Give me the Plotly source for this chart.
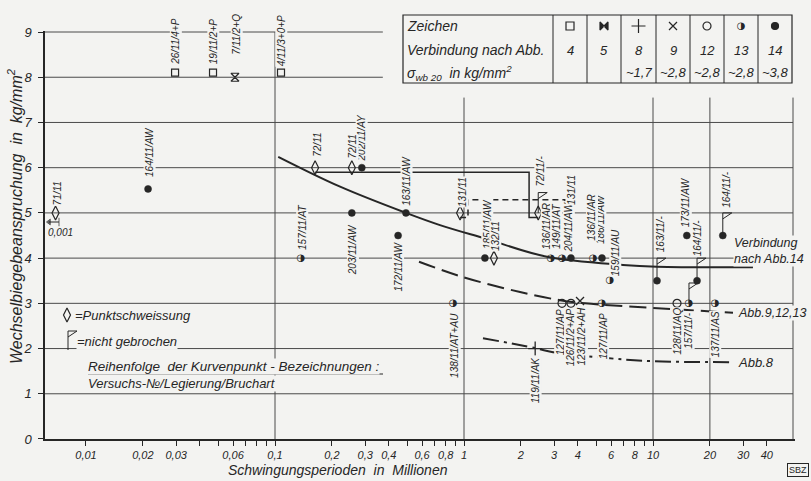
import numpy as np
import plotly.graph_objects as go

W, H = 811, 481
BG = "#f3f3f1"
INK = "#262626"
GRID = "#4a4a4a"
FONT = "Liberation Sans, Arial, sans-serif"
NARROW = "Liberation Sans Narrow, Liberation Sans, Arial, sans-serif"

# ---------------- data ----------------
# Abb.14 joints (filled circle)
abb14_x = [0.0213, 0.288, 0.255, 0.493, 0.448, 1.29, 3.68, 5.37, 10.5, 15.1, 17.1, 23.4]
abb14_y = [5.53, 6.0, 5.0, 5.0, 4.5, 4.0, 4.0, 4.0, 3.5, 4.5, 3.5, 4.5]
abb14_lbl = ["164/11/AW", "202/11/AY", "203/11/AW", "163/11/AW", "172/11/AW", "185/11/AW",
             "204/11/AW", "186/11/AW", "163/11/-", "173/11/AW", "164/11/-", "164/11/-"]
# Abb.13 joints (half-filled circle)
abb13_x = [0.137, 0.875, 2.88, 3.30, 4.82, 5.92, 5.37, 15.5, 21.3]
abb13_y = [4.0, 3.0, 4.0, 4.0, 4.0, 3.5, 3.0, 3.0, 3.0]
abb13_lbl = ["157/11/AT", "138/11/AT+AU", "136/11/AR", "149/11/AT", "136/11/AR", "159/11/AU",
             "127/11/AP", "157/11/-", "137/11/AS"]
# Abb.12 joints (open circle)
abb12_x = [3.30, 3.68, 13.4]
abb12_y = [3.0, 3.0, 3.0]
abb12_lbl = ["127/11/AP", "126/11/2+AP", "128/11/AQ"]
# Abb.9 (x)
abb9_x = [4.11]
abb9_y = [3.05]
abb9_lbl = ["123/11/2+AH"]
# Abb.8 (+)
abb8_x = [2.38]
abb8_y = [2.0]
abb8_lbl = ["119/11/AK"]
# Abb.4 (square)
abb4_x = [0.0296, 0.047, 0.1076]
abb4_y = [8.1, 8.1, 8.1]
abb4_lbl = ["26/11/4+P", "19/11/2+P", "4/11/3+0+P"]
# Abb.5 (hourglass)
abb5_x = [0.0614]
abb5_y = [8.0]
abb5_lbl = ["7/11/2+Q"]
# spot welding (diamond)
spot_x = [0.0069, 0.163, 0.255, 0.953, 1.44, 2.47, 3.55]
spot_y = [5.0, 6.0, 6.0, 5.0, 4.0, 5.0, 5.0]
spot_lbl = ["71/11", "72/11", "72/11", "131/11", "132/11", "72/11/-", "131/11"]
# not broken (flags): point and top of the flag pole
flag_x = [2.47, 15.5, 10.5, 17.1, 23.4]
flag_y = [5.0, 3.0, 3.5, 3.5, 4.5]
flag_top = [5.45, 3.45, 4.0, 4.0, 5.0]

# fitted curves
c14_x = [0.104, 0.221, 0.493, 0.746, 1.3, 2.75, 6.93, 10.5, 33.8]
c14_y = [6.24, 5.58, 5.0, 4.73, 4.43, 4.03, 3.85, 3.81, 3.8]
c9_x = [0.578, 0.99, 1.98, 3.22, 4.37, 10.0, 26.5]
c9_y = [3.92, 3.58, 3.25, 3.07, 3.0, 2.9, 2.79]
c8_x = [1.26, 2.38, 2.96, 5.71, 10.0, 25.5]
c8_y = [2.23, 2.01, 1.92, 1.79, 1.72, 1.70]
# spot-welding step lines
step1_x = [0.163, 2.21, 2.21, 2.47]
step1_y = [5.9, 5.9, 4.9, 4.9]
step2_x = [0.953, 1.05, 1.05, 3.42, 3.42, 3.55]
step2_y = [4.9, 4.9, 5.29, 5.29, 4.9, 4.9]

# axis ticks
xtick_vals = [0.01, 0.02, 0.03, 0.06, 0.1, 0.2, 0.3, 0.4, 0.6, 0.8,
              1, 2, 3, 4, 6, 8, 10, 20, 30, 40]
xtick_text = ["0,01", "0,02", "0,03", "0,06", "0,1", "0,2", "0,3", "0,4", "0,6", "0,8",
              "1", "2", "3", "4", "6", "8", "10", "20", "30", "40"]
xminor_vals = [0.04, 0.05, 0.07, 0.08, 0.09, 0.5, 0.7, 0.9, 5, 7, 9]
ytick_vals = [0, 1, 2, 3, 4, 5, 6, 7, 8, 9]

# table
tab_abb = ["4", "5", "8", "9", "12", "13", "14"]
tab_sigma = ["", "", "~1,7", "~2,8", "~2,8", "~2,8", "~3,8"]

# ---------------- label placement (pixels: x shift, gap >0 above / <0 below) ----------------
abb14_dx = [2, 0, 1, 1, 0, 2, -2, -2, 3, -1, 0, 3]
abb14_gap = [11, 5, -10, 6, -5, 8, 5, 13, 27, 7, 23, 27]
abb13_dx = [1, 2, -4, -6, -1, 5, 1, 0, 0]
abb13_gap = [7, -9, 8, 8, 16, 4, -9, -7, -7]
abb12_dx = [-2, -1, 1]
abb12_gap = [-5, -4, -4]
abb9_dx, abb9_gap = [2], [-5]
abb8_dx, abb8_gap = [0], [-7]
abb4_dx, abb4_gap = [1, 0, 0], [7, 7, 5]
abb5_dx, abb5_gap = [2], [22]
spot_dx = [2, 3, 1, 3, 1, 2, 4]
spot_gap = [6, 10, 8, 5, 6, 25, 7]

# ---------------- geometry ----------------
PX_DEC = 189.0     # pixels per decade
PX_UNIT = 45.22    # pixels per kg/mm2
X_RANGE = [-2.2169, 1.7513]
Y_RANGE = [0, 9.02]
x_dom = [45 / W, 795 / W]
y_dom = [(H - 439) / H, (H - 439 + Y_RANGE[1] * PX_UNIT) / H]
x_min = 10 ** X_RANGE[0]
x_frame = 10 ** 1.7407

fig = go.Figure()

# grid lines
gx, gy = [], []
for yv in [1, 2, 3, 4, 5, 6, 7]:
    gx += [x_min, x_frame, None]; gy += [yv, yv, None]
for yv in [8, 9]:
    gx += [x_min, 0.372, None]; gy += [yv, yv, None]
gx += [0.1, 0.1, None]; gy += [0, 9, None]
for xv in [1, 10, 20, x_frame]:
    gx += [xv, xv, None]; gy += [0, 7.55, None]
fig.add_trace(go.Scatter(x=gx, y=gy, mode="lines", line=dict(color=GRID, width=1),
                         hoverinfo="skip"))

# curves
fig.add_trace(go.Scatter(x=c14_x, y=c14_y, mode="lines", line=dict(color=INK, width=2, shape="spline"),
                         hoverinfo="skip"))
fig.add_trace(go.Scatter(x=c9_x, y=c9_y, mode="lines",
                         line=dict(color=INK, width=2, shape="spline", dash="17px,7px"), hoverinfo="skip"))
fig.add_trace(go.Scatter(x=c8_x, y=c8_y, mode="lines",
                         line=dict(color=INK, width=2, shape="spline", dash="16px,5px,3px,5px"),
                         hoverinfo="skip"))
fig.add_trace(go.Scatter(x=step1_x, y=step1_y, mode="lines", line=dict(color=INK, width=1.5),
                         hoverinfo="skip"))
fig.add_trace(go.Scatter(x=step2_x, y=step2_y, mode="lines", line=dict(color=INK, width=1.5, dash="6px,4px"),
                         hoverinfo="skip"))

# flags (not broken)
fw = 10 ** (9 / PX_DEC)
fd = 6 / PX_UNIT
fx, fy = [], []
for x, y, t in zip(flag_x, flag_y, flag_top):
    fx += [x, x, x * fw, x, None]
    fy += [y, t, t, t - fd, None]
fig.add_trace(go.Scatter(x=fx, y=fy, mode="lines", line=dict(color=INK, width=1), hoverinfo="skip"))

# markers
def mk(xs, ys, symbol, size, lw=1.2):
    fig.add_trace(go.Scatter(x=xs, y=ys, mode="markers", hoverinfo="skip",
                             marker=dict(symbol=symbol, size=size, color=INK,
                                         line=dict(color=INK, width=lw))))

mk(abb14_x, abb14_y, "circle", 7, 0.5)
mk(abb12_x, abb12_y, "circle-open", 8)
mk(abb9_x, abb9_y, "x-thin-open", 8, 1.3)
mk(abb8_x, abb8_y, "cross-thin-open", 10, 1.3)
mk(abb4_x, abb4_y, "square-open", 7)
mk(abb5_x, abb5_y, "hourglass-open", 8)
mk(spot_x, spot_y, "diamond-tall-open", 10)
fig.add_trace(go.Scatter(x=abb13_x, y=abb13_y, mode="text", text=["◑"] * len(abb13_x),
                         textposition="middle center", hoverinfo="skip",
                         textfont=dict(family="DejaVu Sans", size=10, color=INK)))

# point labels
def add_labels(xs, ys, labels, dxs, gaps):
    for x, y, t, dx, g in zip(xs, ys, labels, dxs, gaps):
        fig.add_annotation(x=np.log10(x), y=y, xref="x", yref="y", text=t, textangle=-90,
                           showarrow=False, xanchor="center", yanchor="bottom" if g > 0 else "top",
                           xshift=dx, yshift=g, bgcolor=BG, borderpad=0,
                           font=dict(family=NARROW, size=10, color=INK, style="italic"))

add_labels(abb14_x, abb14_y, abb14_lbl, abb14_dx, abb14_gap)
add_labels(abb13_x, abb13_y, abb13_lbl, abb13_dx, abb13_gap)
add_labels(abb12_x, abb12_y, abb12_lbl, abb12_dx, abb12_gap)
add_labels(abb9_x, abb9_y, abb9_lbl, abb9_dx, abb9_gap)
add_labels(abb8_x, abb8_y, abb8_lbl, abb8_dx, abb8_gap)
add_labels(abb4_x, abb4_y, abb4_lbl, abb4_dx, abb4_gap)
add_labels(abb5_x, abb5_y, abb5_lbl, abb5_dx, abb5_gap)
add_labels(spot_x, spot_y, spot_lbl, spot_dx, spot_gap)

# ---------------- decorations in pixel space ----------------
def px(x): return x / W
def py(y): return 1 - y / H

def note(x, y, text, size=13, xanchor="left", angle=0, bg=None, **kw):
    fig.add_annotation(x=px(x), y=py(y), xref="paper", yref="paper", text=text, showarrow=False,
                       xanchor=xanchor, yanchor="middle", textangle=angle,
                       bgcolor=bg if bg else "rgba(0,0,0,0)", borderpad=0,
                       font=dict(family=FONT, size=size, color=INK, style="italic"), **kw)

# curve names
note(733, 251, "Verbindung<br>nach Abb.14", 12.5, bg=BG, align="left")
note(737, 313, "Abb.9,12,13", 12.5, bg=BG)
note(737, 362, "Abb.8", 13, bg=BG)

# axis titles
note(338, 470, "Schwingungsperioden  in  Millionen", 14, xanchor="center")
note(15, 216, "Wechselbiegebeanspruchung  in  kg/mm<sup>2</sup>", 16, xanchor="center", angle=-90)

# off-scale marker note
note(60, 232, "0,001", 10, xanchor="center")

# legend texts
note(74, 315, "=Punktschweissung", 13, bg=BG)
note(76, 341, "=nicht gebrochen", 13, bg=BG)
note(87, 366, "Reihenfolge  der Kurvenpunkt - Bezeichnungen :", 13.5, bg=BG)
note(87, 383, "Versuchs-№/Legierung/Bruchart", 13, bg=BG)

# SBZ
fig.add_annotation(x=px(798), y=py(470), xref="paper", yref="paper", text="SBZ", showarrow=False,
                   xanchor="center", yanchor="middle", bordercolor=INK, borderwidth=1, borderpad=1,
                   font=dict(family=FONT, size=9, color=INK))

shapes = []
# underline
shapes.append(dict(type="line", xref="paper", yref="paper", x0=px(88), x1=px(383), y0=py(374), y1=py(374),
                   line=dict(color=INK, width=1)))
# table
tx0, tx1, ty0, ty1 = 403, 792, 15, 83
shapes.append(dict(type="rect", xref="paper", yref="paper", x0=px(tx0), x1=px(tx1), y0=py(ty0), y1=py(ty1),
                   line=dict(color=INK, width=1.2), fillcolor=BG, layer="below"))
col_edges = [553, 587, 621, 656, 690, 724, 758, 792]
for ce in col_edges[:-1]:
    shapes.append(dict(type="line", xref="paper", yref="paper", x0=px(ce), x1=px(ce), y0=py(ty0), y1=py(ty1),
                       line=dict(color=INK, width=1)))
fig.update_layout(shapes=shapes)

note(406, 26, "Zeichen", 14)
note(406, 50, "Verbindung nach Abb.", 14)
note(406, 73, "σ<sub>wb 20</sub>  in kg/mm<sup>2</sup>", 14)
col_c = [(a + b) / 2 for a, b in zip(col_edges[:-1], col_edges[1:])]
for c, a, s in zip(col_c, tab_abb, tab_sigma):
    note(c, 50, a, 13, xanchor="center")
    if s:
        note(c, 73, s, 13, xanchor="center")

# table / legend glyphs on a pixel overlay subplot
sym = ["square-open", "bowtie", "cross-thin-open", "x-thin-open", "circle-open", None, "circle"]
sz = [8, 8, 10, 8, 8, 0, 7]
for c, s, z in zip(col_c, sym, sz):
    if s:
        fig.add_trace(go.Scatter(x=[c], y=[26], xaxis="x2", yaxis="y2", mode="markers", hoverinfo="skip",
                                 marker=dict(symbol=s, size=z, color=INK, line=dict(color=INK, width=1.2))))
fig.add_trace(go.Scatter(x=[col_c[5]], y=[26], xaxis="x2", yaxis="y2", mode="text", text=["◑"],
                         textfont=dict(family="DejaVu Sans", size=10, color=INK), hoverinfo="skip"))
fig.add_trace(go.Scatter(x=[67], y=[315], xaxis="x2", yaxis="y2", mode="markers", hoverinfo="skip",
                         marker=dict(symbol="diamond-tall-open", size=10, color=INK,
                                     line=dict(color=INK, width=1.2))))
fig.add_trace(go.Scatter(x=[68, 68, 77, 68], y=[350, 331, 331, 337], xaxis="x2", yaxis="y2", mode="lines",
                         line=dict(color=INK, width=1), hoverinfo="skip"))
# off-scale arrow (value 0,001 lies left of the axis)
fig.add_trace(go.Scatter(x=[59, 49], y=[222, 222], xaxis="x2", yaxis="y2", mode="lines+markers",
                         line=dict(color=INK, width=1), hoverinfo="skip",
                         marker=dict(symbol=["line-ns", "triangle-left"], size=[6, 5], color=INK,
                                     line=dict(color=INK, width=1))))

axfont = dict(family=FONT, size=11, color=INK, style="italic")
fig.update_layout(
    width=W, height=H, autosize=False,
    margin=dict(l=0, r=0, t=0, b=0, pad=0),
    paper_bgcolor=BG, plot_bgcolor="rgba(0,0,0,0)",
    showlegend=False,
    xaxis=dict(type="log", domain=x_dom, range=X_RANGE, showgrid=False, zeroline=False,
               showline=True, linecolor=INK, linewidth=1.5, ticks="outside", ticklen=5,
               tickcolor=INK, tickmode="array", tickvals=xtick_vals, ticktext=xtick_text, tickfont=axfont,
               minor=dict(tickmode="array", tickvals=xminor_vals, ticks="outside", ticklen=5,
                          tickcolor=INK, showgrid=False),
               anchor="y", fixedrange=True, automargin=False),
    yaxis=dict(domain=y_dom, range=Y_RANGE, showgrid=False, zeroline=False,
               showline=True, linecolor=INK, linewidth=1.5, ticks="outside", ticklen=5,
               tickcolor=INK, tickvals=ytick_vals, ticklabelstandoff=4,
               tickfont=dict(family=FONT, size=13, color=INK, style="italic"),
               anchor="x", fixedrange=True, automargin=False),
    xaxis2=dict(domain=[0, 1], range=[0, W], visible=False, anchor="y2", fixedrange=True, automargin=False),
    yaxis2=dict(domain=[0, 1], range=[H, 0], visible=False, anchor="x2", fixedrange=True, automargin=False),
)

# remove the browser's default 8px page margin so the figure sits at the window origin
post = "document.body.style.margin='0';document.body.style.overflow='hidden';"
fig.write_html("out.html", post_script=post, config={"displayModeBar": False})
